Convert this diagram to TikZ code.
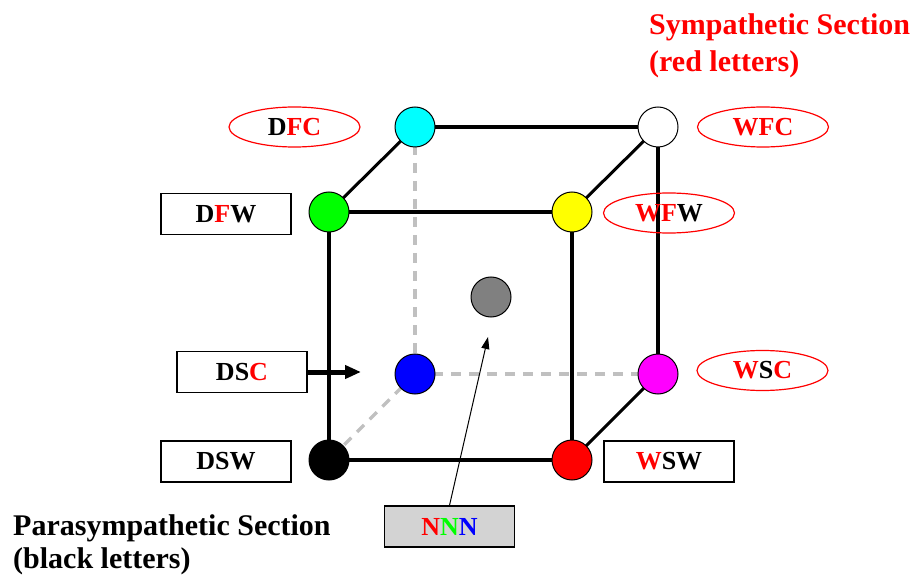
\documentclass[tikz,border=0pt]{standalone}
\usepackage{fontspec}
\setmainfont{Liberation Serif}
\usetikzlibrary{arrows.meta,shapes.geometric,backgrounds}
\definecolor{pureRed}{HTML}{FF0000}
\definecolor{pureGreen}{HTML}{00FF00}
\definecolor{pureBlue}{HTML}{0000FF}
\definecolor{pureCyan}{HTML}{00FFFF}
\definecolor{pureMagenta}{HTML}{FF00FF}
\definecolor{pureYellow}{HTML}{FFFF00}
\definecolor{midGray}{HTML}{808080}
\definecolor{hiddenGray}{HTML}{C0C0C0}
\definecolor{boxGray}{HTML}{D3D3D3}

\begin{document}
\begin{tikzpicture}[x=1pt,y=-1pt,
  vertex/.style={circle,draw=black,line width=1pt,minimum size=40pt,inner sep=0pt},
  edge/.style={line width=4pt},
  diag/.style={line width=3pt},
  hidden/.style={draw=hiddenGray,line width=3.2pt,dash pattern=on 10pt off 8pt},
  labelfont/.style={font=\fontsize{26}{30}\selectfont\bfseries},
  tagbox/.style={rectangle,draw=black,line width=1.2pt,minimum width=130pt,minimum height=41pt,inner sep=0pt,labelfont},
  tagoval/.style={ellipse,draw=pureRed,line width=1.2pt,minimum width=131pt,minimum height=40pt,inner sep=0pt,labelfont},
  title/.style={font=\fontsize{30}{36}\selectfont\bfseries,align=left,anchor=north west,inner sep=0pt}
]
\useasboundingbox (0,0) rectangle (918,585);

% cube corners
\node[vertex,fill=pureCyan]    (dfc) at (415,127) {};
\node[vertex,fill=white]       (wfc) at (658,127) {};
\node[vertex,fill=pureGreen]   (dfw) at (329,212) {};
\node[vertex,fill=pureYellow]  (wfw) at (572,212) {};
\node[vertex,fill=pureBlue]    (dsc) at (415,374) {};
\node[vertex,fill=pureMagenta] (wsc) at (658,374) {};
\node[vertex,fill=black]       (dsw) at (329,460) {};
\node[vertex,fill=pureRed]     (wsw) at (572,460) {};
% centre of the cube
\node[vertex,fill=midGray]     (nnn) at (491,297) {};

% cube edges behind the corners
\begin{pgfonlayer}{background}
  \draw[hidden] (dfc.center) -- (dsc.center);
  \draw[hidden] (dsc.center) -- (wsc.center);
  \draw[hidden] (dsc.center) -- (dsw.center);
  \draw[edge] (dfc.center) -- (wfc.center);
  \draw[edge] (dfw.center) -- (wfw.center);
  \draw[edge] (dsw.center) -- (wsw.center);
  \draw[edge] (dfw.center) -- (dsw.center);
  \draw[edge] (wfw.center) -- (wsw.center);
  \draw[edge] (wfc.center) -- (wsc.center);
  \draw[diag] (dfw.center) -- (dfc.center);
  \draw[diag] (wfw.center) -- (wfc.center);
  \draw[diag] (wsw.center) -- (wsc.center);
\end{pgfonlayer}

% corner labels
\node[tagoval] (tDFC) at (294.5,127) {D\textcolor{pureRed}{FC}};
\node[tagoval] (tWFC) at (763,127)   {\textcolor{pureRed}{WFC}};
\node[tagbox]  (tDFW) at (226,214)   {D\textcolor{pureRed}{F}W};
\node[tagoval] (tWFW) at (669,213)   {\textcolor{pureRed}{WF}W};
\node[tagbox]  (tDSC) at (242,372)   {DS\textcolor{pureRed}{C}};
\node[tagoval] (tWSC) at (762.5,370.5) {\textcolor{pureRed}{W}S\textcolor{pureRed}{C}};
\node[tagbox]  (tDSW) at (226,461.5) {DSW};
\node[tagbox]  (tWSW) at (669,461.5) {\textcolor{pureRed}{W}SW};
\node[tagbox,fill=boxGray] (tNNN) at (449.5,526.5)
  {\textcolor{pureRed}{N}\textcolor{pureGreen}{N}\textcolor{pureBlue}{N}};

% pointers
\coordinate (dscTip) at (361,372);
\coordinate (nnnTip) at (488,337);
\draw[line width=5pt,-{Triangle[length=16pt,width=13pt]}] (tDSC.east) -- (dscTip);
\draw[line width=1pt,-{Triangle[length=12pt,width=8pt]}] (tNNN.north) -- (nnnTip);

% section titles
\node[title,text=pureRed,font=\fontsize{30}{37}\selectfont\bfseries] (symp) at (649,13.5)
  {Sympathetic Section\\(red letters)};
\node[title,font=\fontsize{30}{33}\selectfont\bfseries] (para) at (13,514.5)
  {Parasympathetic Section\\(black letters)};
\end{tikzpicture}
\end{document}
